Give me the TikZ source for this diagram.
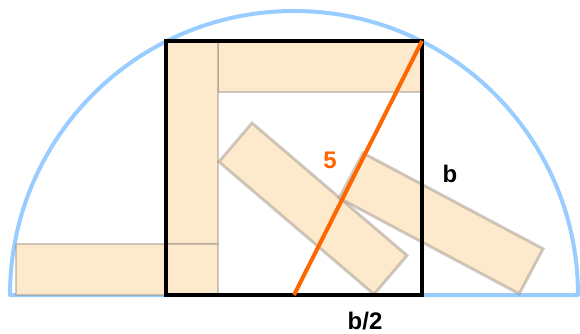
\documentclass[tikz,border=0pt]{standalone}
\usepackage{fontspec}
\setmainfont{Liberation Sans}
\begin{document}
\begin{tikzpicture}[x=0.75pt,y=-0.75pt,
  plank/.style={fill={rgb,255:red,253;green,233;blue,204}, draw={rgb,255:red,150;green,140;blue,130}, draw opacity=0.45, line width=2.2pt, line join=miter},
  lbl/.style={font=\bfseries\fontsize{18}{20}\selectfont, inner sep=0pt}]
\definecolor{circblue}{RGB}{153,204,255}
\definecolor{diagorange}{RGB}{255,102,0}
\useasboundingbox (0,0) rectangle (580,334);
% semicircle
\draw[circblue, line width=3pt, line join=round] (10,295) arc[start angle=180, end angle=360, radius=284] -- cycle;
% planks
\draw[plank] (218,41) rectangle (422,92);
\draw[plank] (166,41) rectangle (218,244);
\draw[plank] (16,244) rectangle (218,295);
\draw[plank] (252,123) -- (407.1,255.5) -- (374,294.3) -- (218.9,161.8) -- cycle;
\draw[plank] (363,153) -- (543.1,248.8) -- (519.2,293.8) -- (339.1,198) -- cycle;
% square
\coordinate (sq1) at (166,41);
\coordinate (sq2) at (422,295);
\draw[black, line width=3.2pt] (sq1) rectangle (sq2);
% diagonal
\coordinate (mid) at (294,295);
\coordinate (corner) at (422,41);
\draw[diagorange, line width=3pt] (mid) -- (corner);
% labels
\node[lbl, text=diagorange] (five) at (330,160) {5};
\node[lbl] (bside) at (450,174) {b};
\node[lbl] (bhalf) at (365,321) {b/2};
\end{tikzpicture}
\end{document}
